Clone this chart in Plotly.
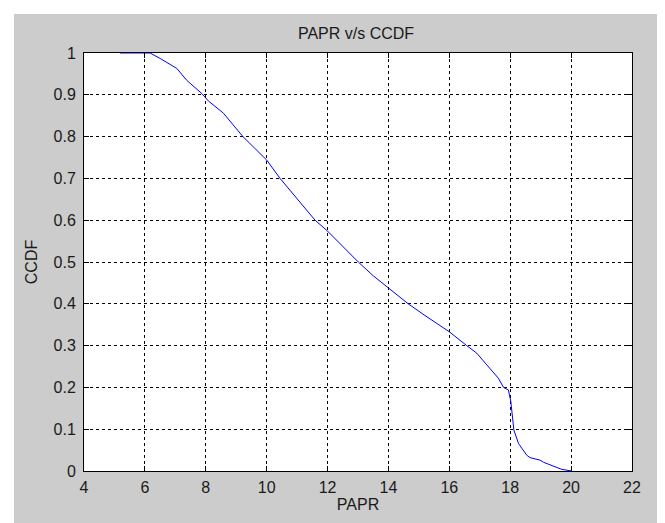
import plotly.graph_objects as go

papr = [5.18, 6.0, 6.17, 6.5, 7.05, 7.37, 7.87, 8.09, 8.58, 9.22, 10.0, 10.44,
        11.0, 11.59, 12.0, 12.5, 13.01, 13.5, 14.0, 14.65, 15.2, 15.69, 16.0,
        16.57, 16.9, 17.23, 17.61, 17.78, 17.94, 18.02, 18.08, 18.12, 18.27,
        18.54, 18.65, 18.98, 19.09, 19.48, 19.69, 20.02]
ccdf = [1.0, 1.0, 1.0, 0.987, 0.963, 0.935, 0.903, 0.885, 0.856, 0.8, 0.744, 0.7,
        0.651, 0.6, 0.574, 0.537, 0.5, 0.467, 0.437, 0.4, 0.372, 0.347, 0.333,
        0.3, 0.282, 0.254, 0.222, 0.2, 0.194, 0.166, 0.13, 0.098, 0.066,
        0.038, 0.032, 0.026, 0.021, 0.009, 0.004, 0.0]

x_ticks = [4, 6, 8, 10, 12, 14, 16, 18, 20, 22]
y_ticks = [0, 0.1, 0.2, 0.3, 0.4, 0.5, 0.6, 0.7, 0.8, 0.9, 1]
y_labels = ["0", "0.1", "0.2", "0.3", "0.4", "0.5", "0.6", "0.7", "0.8", "0.9", "1"]

# page body adds an 8px offset; figure coordinates are screen - 8
OFF = 8
W, H = 665 - OFF, 523 - OFF
L, R, T, B = 84 - OFF, 33, 53 - OFF, 52
pw, ph = W - L - R, H - T - B

FONT = "Liberation Sans, Arial, sans-serif"
TXT = "#1a1a1a"
FS = 16

fig = go.Figure()
fig.add_trace(go.Scatter(x=papr, y=ccdf, mode="lines", cliponaxis=False,
                         line=dict(color="#0000ff", width=1), showlegend=False))

axis_common = dict(
    showline=True, linecolor="black", linewidth=1, mirror="ticks",
    ticks="inside", ticklen=5, tickcolor="black", layer="below traces",
    showgrid=True, gridcolor="black", gridwidth=1, griddash="3px,3px",
    zeroline=False, tickfont=dict(family=FONT, size=FS, color=TXT),
)

fig.update_xaxes(range=[4, 22], tickvals=x_ticks, ticktext=[str(v) for v in x_ticks],
                 ticklabelstandoff=2,
                 title=dict(text="PAPR", font=dict(family=FONT, size=FS, color=TXT), standoff=3),
                 **axis_common)
fig.update_yaxes(range=[0, 1], tickvals=y_ticks, ticktext=y_labels,
                 ticklabelstandoff=4,
                 title=dict(text="CCDF", font=dict(family=FONT, size=FS, color=TXT), standoff=11),
                 **axis_common)

# white strips at top and left edges of the image (beyond the page margin)
STRIP = 14 - OFF
fig.add_shape(type="rect", xref="paper", yref="paper",
              x0=(0 - L) / pw - 0.1, x1=(W - L) / pw + 0.1,
              y0=(H - B - STRIP) / ph, y1=(H - B) / ph + 0.1,
              fillcolor="white", line=dict(width=0), layer="below")
fig.add_shape(type="rect", xref="paper", yref="paper",
              x0=(0 - L) / pw - 0.1, x1=(STRIP - L) / pw,
              y0=-0.3, y1=(H - B) / ph + 0.1,
              fillcolor="white", line=dict(width=0), layer="below")

fig.update_layout(
    width=W, height=H,
    margin=dict(l=L, r=R, t=T, b=B),
    paper_bgcolor="#cccccc", plot_bgcolor="white",
    title=dict(text="PAPR v/s CCDF", font=dict(family=FONT, size=FS, color=TXT),
               x=(356 - 84) / pw, xref="paper", xanchor="center",
               y=1 - (33 - OFF) / H, yref="container", yanchor="middle"),
    showlegend=False,
)

fig.write_html("out.html")
